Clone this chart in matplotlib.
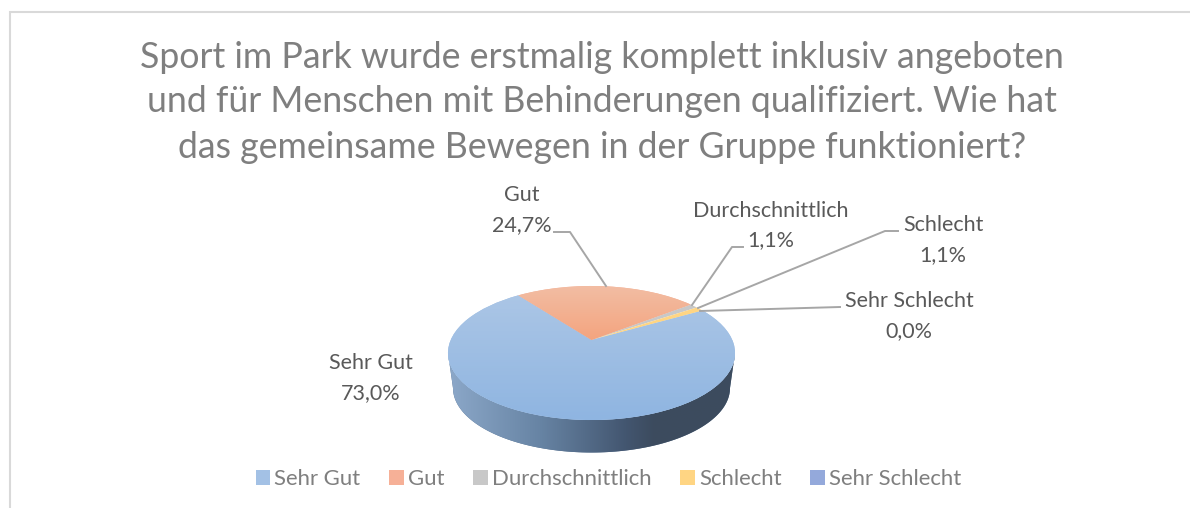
#!/usr/bin/env python3
# -*- coding: utf-8 -*-
import numpy as np
import matplotlib
matplotlib.use('Agg')
import matplotlib.pyplot as plt
from matplotlib.colors import to_rgb
from matplotlib.patches import Polygon
from matplotlib.transforms import Transform

categories = ['Sehr Gut', 'Gut', 'Durchschnittlich', 'Schlecht', 'Sehr Schlecht']
values = [73.0, 24.7, 1.1, 1.1, 0.0]
title_lines = ['Sport im Park wurde erstmalig komplett inklusiv angeboten',
               'und für Menschen mit Behinderungen qualifiziert. Wie hat',
               'das gemeinsame Bewegen in der Gruppe funktioniert?']
colors = ['#A3C1E5', '#F6B097', '#C8C8C8', '#FFD583', '#94A9DB']

plt.rcParams['font.family'] = ['Lato', 'DejaVu Sans']

W, H = 1190, 508
CX, APEX_Y = 591.5, 340.0


class TiltTransform(Transform):
    # unit pie -> pixels, projective so the apex sits above the ellipse centre
    input_dims = output_dims = 2
    is_separable = False

    def transform_non_affine(self, xy):
        xy = np.asarray(xy, dtype=float)
        w = 1 + 0.194 * xy[:, 1]
        return np.column_stack([CX + 140.8 * xy[:, 0] / w, APEX_Y - 64.5 * xy[:, 1] / w])


def gradient(ax, stops, extent, clip, horizontal=False):
    pos = np.linspace(0, 1, 256)
    xp = [s[0] for s in stops]
    rgb = np.array([to_rgb(s[1]) for s in stops])
    img = np.stack([np.interp(pos, xp, rgb[:, i]) for i in range(3)], axis=-1)
    img = img[None, :, :] if horizontal else img[:, None, :]
    im = ax.imshow(img, extent=extent, aspect='auto', zorder=3, origin='upper',
                   interpolation='bilinear')
    im.set_clip_path(clip)
    return im


fig = plt.figure(figsize=(W / 100, H / 100), dpi=100)
ax = fig.add_axes([0, 0, 1, 1])

wedges, _ = ax.pie(values, colors=colors, startangle=30, counterclock=False,
                   normalize=True, frame=True, wedgeprops={'linewidth': 0})
ax.set_aspect('auto')
tilt = TiltTransform() + ax.transData
for w in wedges:
    w.set_transform(tilt)
    w.set_zorder(4)

# side wall
t = np.radians(np.linspace(180, 360, 120))
upper = np.column_stack([591.5 + 143.5 * np.cos(t), 353 - 67 * np.sin(t)])
lower = np.column_stack([591.5 + 138.5 * np.cos(t), 388 - 64.5 * np.sin(t)])[::-1]
band = Polygon(np.vstack([upper, lower]), closed=True, fc='#56708E', ec='none', zorder=2)
ax.add_patch(band)
gradient(ax, [(0, '#8CA8C9'), (0.32, '#6784A4'), (0.62, '#435670'), (0.72, '#3C4B5E'), (1, '#3D4C5E')],
         (448, 735, 455, 350), band, horizontal=True)

# top surface, gradients on the two large slices
gradient(ax, [(0, '#ADC7E6'), (1, '#8FB5E1')], (448, 735, 420, 286), wedges[0]).set_zorder(5)
gradient(ax, [(0, '#F2BDA3'), (1, '#F4A47F')], (448, 735, 340, 286), wedges[1]).set_zorder(5)

ax.set_xlim(0, W)
ax.set_ylim(H, 0)
ax.set_frame_on(False)
ax.set_xticks([])
ax.set_yticks([])

# chart border
ax.plot([9.5, 9.5, W], [H, 11.5, 11.5], color='#D9D9D9', lw=1.5, zorder=1, solid_joinstyle='miter')

# title
for line, y in zip(title_lines, [57, 102, 147]):
    ax.text(602, y, line, ha='center', va='center', fontsize=25.7, color='#7F7F7F')

# leaders
leaders = [[(606, 286), (570, 232), (554, 232)],
           [(692, 305), (732, 247), (743, 247)],
           [(698, 308), (885, 231), (898, 231)],
           [(700, 311), (840, 307)]]
for pts in leaders:
    ax.plot(*zip(*pts), color='#A6A6A6', lw=1.4, zorder=6)

# data labels
label_pos = [(371, 363, 393), (522, 195, 225), (771, 211, 240), (943, 225, 255), (909, 301, 331)]
for cat, val, (x, y1, y2) in zip(categories, values, label_pos):
    ax.text(x, y1, cat, ha='center', va='center', fontsize=15.5, color='#595959', zorder=7)
    ax.text(x, y2, f'{val:.1f}%'.replace('.', ','), ha='center', va='center',
            fontsize=15.5, color='#595959', zorder=7)

ax.legend(wedges, categories, loc='center', bbox_to_anchor=(608.5 / W, 1 - 479 / H), ncol=5,
          frameon=False, fontsize=15.9, labelcolor='#7F7F7F', handlelength=0.65, handleheight=0.65,
          handletextpad=0.2, columnspacing=1.3, borderpad=0)

fig.savefig('out.png', dpi=100)
